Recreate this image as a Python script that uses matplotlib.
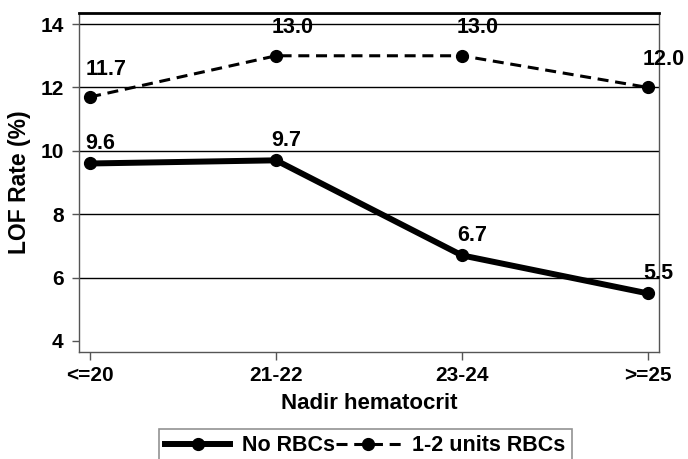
import matplotlib.pyplot as plt

plt.rcParams['font.family'] = ['Liberation Sans', 'DejaVu Sans']
plt.rcParams['font.weight'] = 'bold'

categories = ['<=20', '21-22', '23-24', '>=25']
no_rbcs = [9.6, 9.7, 6.7, 5.5]
units_rbcs = [11.7, 13.0, 13.0, 12.0]
y_ticks = [4, 6, 8, 10, 12, 14]

fig = plt.figure(figsize=(6.88, 4.59), dpi=100)
ax = fig.add_axes([79 / 688, 1 - 352 / 459, (659 - 79) / 688, (352 - 13) / 459])

x = list(range(len(categories)))
for yv in y_ticks[1:]:
    ax.axhline(yv, color='black', lw=1.0, zorder=1)

ax.plot(x, no_rbcs, color='black', lw=4.3, marker='o', markersize=8.5,
        label='No RBCs', zorder=3)
ax.plot(x, units_rbcs, color='black', lw=2.2, ls=(0, (3.6, 2.2)), marker='o',
        markersize=8.5, label='1-2 units RBCs', zorder=3)

for xi, v in zip(x, no_rbcs):
    ax.annotate(f'{v:.1f}', (xi, v), xytext=(-3.5, 6.5), textcoords='offset points',
                ha='left', va='bottom', fontsize=15.5, fontweight='bold')
for xi, v in zip(x, units_rbcs):
    ax.annotate(f'{v:.1f}', (xi, v), xytext=(-3.5, 12.5), textcoords='offset points',
                ha='left', va='bottom', fontsize=15.5, fontweight='bold')

ax.set_xlim(-0.06, 3.06)
ax.set_ylim(3.65, 14.35)
ax.set_xticks(x)
ax.set_xticklabels(categories, fontsize=15, fontweight='bold')
ax.set_yticks(y_ticks)
ax.set_yticklabels([str(t) for t in y_ticks], fontsize=15, fontweight='bold')
ax.tick_params(axis='x', length=6, color='#555555', width=1, pad=4)
ax.tick_params(axis='y', length=5, color='#555555', width=1, pad=6)
ax.set_xlabel('Nadir hematocrit', fontsize=16, fontweight='bold', labelpad=6)
ax.set_ylabel('LOF Rate (%)', fontsize=16.5, fontweight='bold', labelpad=7)

for side in ['left', 'right', 'bottom']:
    ax.spines[side].set_color('#555555')
    ax.spines[side].set_linewidth(1)
ax.spines['top'].set_color('black')
ax.spines['top'].set_linewidth(2)

leg = fig.legend(loc='upper left', bbox_to_anchor=(159 / 688, 1 - 429 / 459),
                 ncol=2, fontsize=15.5, frameon=True, fancybox=False,
                 edgecolor='#777777', handlelength=3.0, columnspacing=0.05,
                 handletextpad=0.55, borderpad=0.3, borderaxespad=0)
leg.get_frame().set_linewidth(1.2)

fig.savefig('out.png', dpi=100)
